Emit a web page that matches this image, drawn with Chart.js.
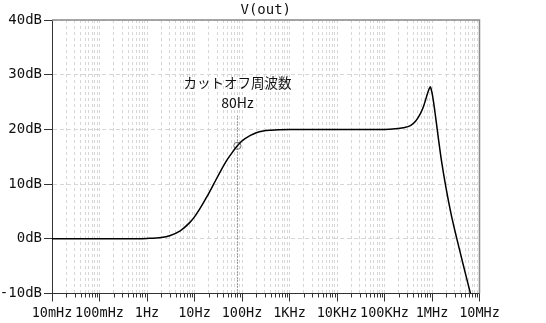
<!DOCTYPE html>
<html>
<head>
<meta charset="utf-8">
<script src="https://cdn.jsdelivr.net/npm/chart.js@4.4.1/dist/chart.umd.min.js"></script>
<style>
  html, body { margin: 0; padding: 0; background: #fff; }
  #wrap { width: 546px; height: 323px; }
</style>
</head>
<body>
<div id="wrap"><canvas id="bode" width="546" height="323"></canvas></div>
<script>
// Frequency response of V(out): frequency in Hz, magnitude in dB
const freqHz = [
  0.01, 0.1, 0.5, 1, 2, 3, 5, 8, 10, 13, 18, 25, 35, 50, 65, 80, 100, 150, 200, 280, 400, 600,
  1e3, 1e4, 1e5, 169e3, 250e3, 351e3, 450e3, 570e3, 650e3, 727e3, 800e3, 860e3, 925e3,
  0.97e6, 1.02e6, 1.087e6, 1.16e6, 1.24e6, 1.38e6, 1.6e6, 1.91e6, 2.5e6, 3.27e6, 4.5e6, 6.44e6, 7.2e6
];
const gainDb = [
  0, 0, 0.02, 0.07, 0.25, 0.57, 1.45, 3.0, 4.0, 5.5, 7.6, 9.9, 12.3, 14.6, 16.0, 17.0, 17.9, 18.9, 19.4, 19.7, 19.85, 19.95,
  20, 20, 20, 20.1, 20.3, 20.7, 21.5, 22.9, 24.0, 25.3, 26.5, 27.3, 27.8,
  27.2, 26.3, 24.8, 23.0, 21.1, 18.0, 14.0, 10.0, 4.7, 0.3, -4.6, -10.0, -11.7
];

// Cut-off marker
const cutoffHz = 80;
const cutoffDb = 17;
const cutoffLineTopDb = 22.5;
const cutoffCaption = 'カットオフ周波数';
const cutoffLabel = '80Hz';

// Axis ticks
const decadeValues = [0.01, 0.1, 1, 10, 100, 1e3, 1e4, 1e5, 1e6, 1e7];
const decadeLabels = ['10mHz', '100mHz', '1Hz', '10Hz', '100Hz', '1KHz', '10KHz', '100KHz', '1MHz', '10MHz'];
const yTickValues = [-10, 0, 10, 20, 30, 40];
const yTickLabels = ['-10dB', '0dB', '10dB', '20dB', '30dB', '40dB'];
const plotTitle = 'V(out)';

const MONO = '"DejaVu Sans Mono", "Liberation Mono", monospace';

// every 1..9 multiple inside each decade
const xTickValues = [];
decadeValues.forEach((d, i) => {
  if (i === decadeValues.length - 1) { xTickValues.push(d); return; }
  for (let m = 1; m <= 9; m++) xTickValues.push(d * m);
});
const decadeIndex = v => decadeValues.findIndex(d => Math.abs(Math.log10(v) - Math.log10(d)) < 1e-6);

const decorations = {
  id: 'decorations',
  afterDraw(chart) {
    const { ctx, chartArea: a, scales } = chart;
    const xs = scales.x;
    ctx.save();
    // top and right frame
    ctx.strokeStyle = '#8a8a8a';
    ctx.lineWidth = 1.5;
    ctx.beginPath();
    ctx.moveTo(a.left, a.top);
    ctx.lineTo(a.right, a.top);
    ctx.lineTo(a.right, a.bottom);
    ctx.stroke();
    // short minor ticks on the frequency axis
    ctx.strokeStyle = '#333';
    ctx.lineWidth = 1;
    xs.ticks.forEach(t => {
      if (t.major) return;
      const px = Math.round(xs.getPixelForValue(t.value)) + 0.5;
      ctx.beginPath();
      ctx.moveTo(px, a.bottom);
      ctx.lineTo(px, a.bottom + 4);
      ctx.stroke();
    });
    // title
    ctx.fillStyle = '#111';
    ctx.font = '14px ' + MONO;
    ctx.textAlign = 'center';
    ctx.textBaseline = 'middle';
    ctx.fillText(plotTitle, (a.left + a.right) / 2, 10.5);
    // cut-off caption
    const cx = xs.getPixelForValue(cutoffHz);
    ctx.font = '13.5px "Noto Sans CJK JP", "Noto Sans", sans-serif';
    ctx.fillText(cutoffCaption, cx, 83);
    ctx.font = '14px "Noto Sans CJK JP", "Noto Sans", sans-serif';
    ctx.fillText(cutoffLabel, cx, 103);
    ctx.restore();
  }
};

new Chart(document.getElementById('bode'), {
  type: 'line',
  data: {
    datasets: [
      {
        label: 'V(out)',
        data: freqHz.map((f, i) => ({ x: f, y: gainDb[i] })),
        borderColor: '#000',
        borderWidth: 1.5,
        pointRadius: 0,
        cubicInterpolationMode: 'monotone',
        fill: false
      },
      {
        label: 'cutoff line',
        data: [{ x: cutoffHz, y: -10 }, { x: cutoffHz, y: cutoffLineTopDb }],
        borderColor: '#444',
        borderWidth: 1,
        borderDash: [1, 2],
        pointRadius: 0,
        fill: false
      },
      {
        label: 'cutoff point',
        data: [{ x: cutoffHz, y: cutoffDb }],
        showLine: false,
        pointRadius: 3.6,
        pointBorderColor: '#7a7a7a',
        pointBorderWidth: 1,
        pointBackgroundColor: 'rgba(0,0,0,0)'
      }
    ]
  },
  options: {
    responsive: false,
    animation: false,
    devicePixelRatio: 1,
    layout: { padding: { top: 20, right: 66.5, bottom: 0, left: 0 } },
    plugins: { legend: { display: false }, tooltip: { enabled: false }, title: { display: false } },
    scales: {
      x: {
        type: 'logarithmic',
        position: 'bottom',
        min: decadeValues[0],
        max: decadeValues[decadeValues.length - 1],
        afterBuildTicks(scale) {
          scale.ticks = xTickValues.map(v => ({ value: v, major: decadeIndex(v) >= 0 }));
        },
        afterFit(scale) { scale.height = 29.5; },
        ticks: {
          autoSkip: false,
          maxRotation: 0,
          minRotation: 0,
          padding: 4,
          color: '#111',
          font: { family: MONO, size: 13.5 },
          callback(v) {
            const i = decadeIndex(v);
            return i >= 0 ? decadeLabels[i] : '';
          }
        },
        grid: {
          color: '#d6d6d6',
          lineWidth: 1,
          tickLength: 8,
          tickColor: ctx => (ctx.tick && ctx.tick.major) ? '#333' : 'rgba(0,0,0,0)',
          tickBorderDash: []
        },
        border: { display: true, color: '#333', width: 1, dash: [3, 3] }
      },
      y: {
        type: 'linear',
        min: yTickValues[0],
        max: yTickValues[yTickValues.length - 1],
        afterBuildTicks(scale) {
          scale.ticks = yTickValues.map(v => ({ value: v }));
        },
        afterFit(scale) { scale.width = 52; },
        ticks: {
          padding: 2,
          color: '#111',
          font: { family: MONO, size: 14 },
          callback(v) {
            const i = yTickValues.indexOf(v);
            return i >= 0 ? yTickLabels[i] : '';
          }
        },
        grid: {
          color: '#d6d6d6',
          lineWidth: 1,
          tickLength: 8,
          tickColor: '#333',
          tickBorderDash: []
        },
        border: { display: true, color: '#333', width: 1, dash: [4, 3] }
      }
    }
  },
  plugins: [decorations]
});
</script>
</body>
</html>
